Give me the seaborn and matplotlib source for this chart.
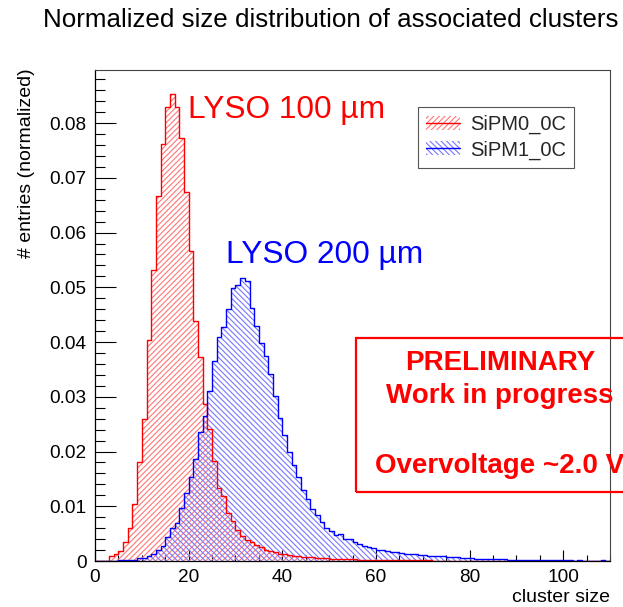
import numpy as np
import matplotlib
matplotlib.use("Agg")
import matplotlib.pyplot as plt
import seaborn as sns
from matplotlib.patches import Patch, Rectangle
from matplotlib.lines import Line2D
from matplotlib.legend_handler import HandlerTuple
from matplotlib.ticker import MultipleLocator, FuncFormatter

# ---------------- data (bin contents, bins of width 1 from 0 to 110) ----------------
bin_edges = list(range(0, 111))

sipm0_0c = [
    0, 0, 0, 0.0010, 0.0012, 0.0018, 0.0035, 0.0060, 0.0105, 0.0181,
    0.0260, 0.0404, 0.0531, 0.0666, 0.0762, 0.0829, 0.0854, 0.0829, 0.0773, 0.0675,
    0.0567, 0.0438, 0.0373, 0.0287, 0.0241, 0.0183, 0.0134, 0.0118, 0.0087, 0.0073,
    0.0057, 0.0046, 0.0039, 0.0034, 0.0029, 0.0025, 0.0021, 0.0018, 0.0016, 0.0013,
    0.0012, 0.0011, 0.0010, 0.0009, 0.0008, 0.0008, 0.0007, 0.0006, 0.0006, 0.0005,
    0.0004, 0.0004, 0.0004, 0.0003, 0.0003, 0.0003, 0.0002, 0.0002, 0.0002, 0.0002,
    0.0002, 0.0001, 0.0001, 0.0001, 0.0001, 0.0001, 0.0001, 0.0001, 0.0001, 0.0001,
    0.0001, 0.0001, 0.00008, 0.00008, 0.00006, 0.00006, 0.00005, 0.00005, 0.00004, 0.00004,
    0.00003, 0.00003, 0.00003, 0.00002, 0.00002, 0.00002, 0.00002, 0.00001, 0.00001, 0.00001,
    0.00001, 0.00001, 0.00001, 0, 0.00001, 0, 0, 0.00001, 0, 0,
    0, 0, 0, 0, 0, 0, 0, 0, 0, 0,
]

sipm1_0c = [
    0, 0, 0, 0, 0, 0.0001, 0.0001, 0.0001, 0.0002, 0.0005,
    0.0005, 0.0009, 0.0013, 0.0021, 0.0027, 0.0043, 0.0061, 0.0070, 0.0096, 0.0124,
    0.0154, 0.0186, 0.0236, 0.0264, 0.0310, 0.0365, 0.0410, 0.0427, 0.0460, 0.0498,
    0.0504, 0.0517, 0.0511, 0.0463, 0.0429, 0.0399, 0.0374, 0.0341, 0.0301, 0.0262,
    0.0230, 0.0200, 0.0176, 0.0153, 0.0130, 0.0114, 0.0095, 0.0084, 0.0071, 0.0061,
    0.0055, 0.0047, 0.0049, 0.0041, 0.0040, 0.0034, 0.0031, 0.0027, 0.0026, 0.0023,
    0.0021, 0.0020, 0.0019, 0.0017, 0.0016, 0.0014, 0.0013, 0.0012, 0.0012, 0.0011,
    0.0011, 0.0010, 0.0010, 0.0009, 0.0009, 0.0008, 0.0007, 0.0007, 0.0006, 0.0006,
    0.0005, 0.0004, 0.0004, 0.0004, 0.0003, 0.0003, 0.0003, 0.0003, 0.0002, 0.0002,
    0.0002, 0.0002, 0.0002, 0.0001, 0.0002, 0.0001, 0.0001, 0.0001, 0.0001, 0.0001,
    0.0001, 0.0001, 0.00005, 0.0001, 0.00005, 0.00005, 0.00005, 0.00005, 0.0001, 0.00005,
]

series_labels = ["SiPM0_0C", "SiPM1_0C"]
x_ticks = [0, 20, 40, 60, 80, 100]
y_ticks = [0, 0.01, 0.02, 0.03, 0.04, 0.05, 0.06, 0.07, 0.08]

# ---------------- style ----------------
sns.set_theme(style="white")
plt.rcParams["font.family"] = ["Liberation Sans", "DejaVu Sans"]
plt.rcParams["hatch.linewidth"] = 0.8

W, H = 623, 607
fig = plt.figure(figsize=(W / 100, H / 100), dpi=100)
fig.patch.set_facecolor("white")
ax = fig.add_axes([95 / W, 1 - 561 / H, 515 / W, 491 / H])
ax.set_facecolor("white")

centers = np.array(bin_edges[:-1]) + 0.5

styles = [
    (sipm0_0c, "#ff0000", "#ff7777", "//////"),
    (sipm1_0c, "#0000ff", "#7777ff", "\\\\\\\\\\\\"),
]

# hatched fills
for vals, lc, hc, hatch in styles:
    sns.histplot(x=centers, weights=vals, bins=bin_edges, element="step",
                 fill=True, color=hc, facecolor="none", edgecolor=hc, hatch=hatch,
                 linewidth=0, ax=ax)
# outlines
for vals, lc, hc, hatch in styles:
    sns.histplot(x=centers, weights=vals, bins=bin_edges, element="step",
                 fill=False, color=lc, linewidth=1.0, ax=ax)

ax.set_xlim(0, 110)
ax.set_ylim(0, 0.0897)
ax.set_xlabel("")
ax.set_ylabel("")

ax.set_xticks(x_ticks)
ax.set_yticks(y_ticks)
ax.xaxis.set_minor_locator(MultipleLocator(5))
ax.yaxis.set_minor_locator(MultipleLocator(0.002))
ax.yaxis.set_major_formatter(FuncFormatter(lambda v, p: "0" if abs(v) < 1e-9 else f"{v:.2f}"))
ax.xaxis.set_major_formatter(FuncFormatter(lambda v, p: f"{int(round(v))}"))
ax.tick_params(axis="both", which="both", direction="in", colors="black",
               labelsize=13.7, width=0.8, left=True, bottom=True, top=False, right=False)
ax.tick_params(axis="y", which="major", length=15, pad=6)
ax.tick_params(axis="y", which="minor", length=7.5)
ax.tick_params(axis="x", which="major", length=8, pad=6)
ax.tick_params(axis="x", which="minor", length=4)
for s in ["left", "bottom"]:
    ax.spines[s].set_color("black")
    ax.spines[s].set_linewidth(0.9)
for s in ["top", "right"]:
    ax.spines[s].set_color("#444444")
    ax.spines[s].set_linewidth(0.8)
for s in ax.spines.values():
    s.set_zorder(10)

# title and axis titles
fig.text(43 / W, 1 - 20 / H, "Normalized size distribution of associated clusters",
         ha="left", va="center", fontsize=18.7, color="black")
fig.text(27 / W, 1 - 68 / H, "# entries (normalized)", rotation=90,
         ha="center", va="top", fontsize=14, color="black")
fig.text(610 / W, 1 - 597 / H, "cluster size", ha="right", va="center",
         fontsize=14, color="black")

# annotations
fig.text(188 / W, 1 - 110 / H, "LYSO 100 µm", ha="left", va="center",
         fontsize=22.8, color="#ff0000")
fig.text(226 / W, 1 - 255 / H, "LYSO 200 µm", ha="left", va="center",
         fontsize=22.8, color="#0000ff")

# preliminary box
box = Rectangle((356 / W, 1 - 492 / H), 300 / W, 154 / H, transform=fig.transFigure,
                fill=False, edgecolor="#ff0000", linewidth=1.6, clip_on=False, zorder=5)
fig.patches.append(box)
fig.text(500 / W, 1 - 363 / H, "PRELIMINARY", ha="center", va="center",
         fontsize=20, fontweight="bold", color="#ff0000")
fig.text(500 / W, 1 - 396 / H, "Work in progress", ha="center", va="center",
         fontsize=20, fontweight="bold", color="#ff0000")
fig.text(375 / W, 1 - 466 / H, "Overvoltage ~2.0 V", ha="left", va="center",
         fontsize=20, fontweight="bold", color="#ff0000")

# legend
handles = []
for vals, lc, hc, hatch in styles:
    handles.append((Patch(facecolor="none", edgecolor=hc, hatch=hatch, linewidth=0),
                    Line2D([], [], color=lc, linewidth=1.0)))
leg = fig.legend(handles, series_labels, handler_map={tuple: HandlerTuple(ndivide=1)},
                 loc="upper left", bbox_to_anchor=(418 / W, 1 - 107 / H),
                 bbox_transform=fig.transFigure, borderaxespad=0, fontsize=14.5,
                 frameon=True, fancybox=False, edgecolor="#555555", framealpha=1,
                 handlelength=1.7, handleheight=0.7, borderpad=0.4,
                 labelspacing=0.3, handletextpad=0.5)
leg.get_frame().set_linewidth(0.8)

fig.savefig("out.png", dpi=100, facecolor="white")
